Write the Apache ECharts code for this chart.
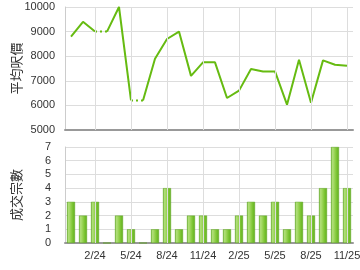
<!DOCTYPE html>
<html><head><meta charset="utf-8">
<script src="https://cdn.jsdelivr.net/npm/echarts@6/dist/echarts.min.js"></script>
<style>html,body{margin:0;padding:0;background:#fff}#c{width:360px;height:270px}</style>
</head><body><div id="c"></div>
<script>
const months = ['12/23','1/24','2/24','3/24','4/24','5/24','6/24','7/24','8/24','9/24','10/24','11/24','12/24','1/25','2/25','3/25','4/25','5/25','6/25','7/25','8/25','9/25','10/25','11/25'];
const avgPrice = [8800,9400,9000,9000,10000,6200,6200,7900,8700,9000,7200,7750,7750,6300,6600,7480,7380,7380,6030,7860,6110,7830,7650,7610];
const volume = [3,2,3,0,2,1,0,1,4,1,2,2,1,1,2,3,2,3,1,3,2,4,7,4];
const priceTicks = [5000,6000,7000,8000,9000,10000];
const volumeTicks = [0,1,2,3,4,5,6,7];

const green = '#66bb11';
const labelShown = i => i % 3 === 2;
const gridMonths = months.filter((m, k) => labelShown(k));

// build line runs: a segment into a month with no transactions is dotted
const lineSeries = [];
let i = 1;
while (i < months.length) {
  const dotted = volume[i] === 0;
  let j = i;
  while (j + 1 < months.length && (volume[j + 1] === 0) === dotted) j++;
  const data = months.map((m, k) => (k >= i - 1 && k <= j) ? avgPrice[k] : null);
  lineSeries.push({
    type: 'line', xAxisIndex: 0, yAxisIndex: 0, data: data, symbol: 'none',
    connectNulls: false, silent: true, z: 3,
    lineStyle: { color: green, width: 2, type: dotted ? [2, 3] : 'solid' }
  });
  i = j + 1;
}

function vGrid(axisIdx) {
  return {
    type: 'line', xAxisIndex: axisIdx, yAxisIndex: axisIdx, data: [], silent: true, z: 1,
    markLine: {
      silent: true, symbol: 'none', animation: false,
      label: { show: false },
      lineStyle: { color: '#dddddd', width: 1, type: 'solid' },
      data: gridMonths.map(m => ({ xAxis: m }))
    }
  };
}

const barGrad = new echarts.graphic.LinearGradient(0, 0, 1, 0, [
  { offset: 0, color: '#64b024' },
  { offset: 0.2, color: '#b2e07a' },
  { offset: 0.5, color: '#92d04c' },
  { offset: 0.75, color: '#74c02c' },
  { offset: 1, color: '#64b024' }
]);

const axisText = { color: '#333', fontSize: 11, fontFamily: 'Liberation Sans, Arial, sans-serif' };
const gridLine = { show: true, lineStyle: { color: '#dddddd', width: 1 } };
const nameStyle = { color: '#333', fontSize: 13, fontFamily: 'Noto Sans CJK TC, sans-serif' };

const chart = echarts.init(document.getElementById('c'), null, { renderer: 'canvas' });
chart.setOption({
  animation: false,
  grid: [
    { left: 65, top: 7, width: 288, height: 123, outerBoundsMode: 'none', containLabel: false },
    { left: 65, top: 147, width: 288, height: 96, outerBoundsMode: 'none', containLabel: false }
  ],
  xAxis: [
    { type: 'category', gridIndex: 0, data: months, boundaryGap: true,
      axisLine: { lineStyle: { color: '#999', width: 2 } },
      axisTick: { show: false }, axisLabel: { show: false },
      splitLine: { show: false } },
    { type: 'category', gridIndex: 1, data: months, boundaryGap: true,
      axisLine: { lineStyle: { color: '#999', width: 2 } },
      axisTick: { show: false },
      axisLabel: Object.assign({ interval: (k) => labelShown(k), margin: 7 }, axisText),
      splitLine: { show: false } }
  ],
  yAxis: [
    { type: 'value', gridIndex: 0, min: priceTicks[0], max: priceTicks[priceTicks.length - 1], interval: 1000,
      name: '平均呎價', nameLocation: 'middle', nameRotate: 90, nameGap: 42, nameMoveOverlap: false,
      nameTextStyle: nameStyle,
      axisLine: { show: true, lineStyle: { color: '#cccccc', width: 1 } },
      axisTick: { show: false },
      axisLabel: Object.assign({ margin: 10, formatter: v => String(v) }, axisText),
      splitLine: gridLine },
    { type: 'value', gridIndex: 1, min: volumeTicks[0], max: volumeTicks[volumeTicks.length - 1], interval: 1,
      name: '成交宗數', nameLocation: 'middle', nameRotate: 90, nameGap: 42, nameMoveOverlap: false,
      nameTextStyle: nameStyle,
      axisLine: { show: true, lineStyle: { color: '#cccccc', width: 1 } },
      axisTick: { show: false },
      axisLabel: Object.assign({ margin: 14, formatter: v => String(v) }, axisText),
      splitLine: gridLine }
  ],
  series: [vGrid(0), vGrid(1)].concat(lineSeries).concat([
    { type: 'bar', xAxisIndex: 1, yAxisIndex: 1, data: volume, barWidth: 8, silent: true, z: 3,
      itemStyle: { color: barGrad, borderColor: '#5aa51a', borderWidth: 0.5 } }
  ])
});
</script></body></html>
